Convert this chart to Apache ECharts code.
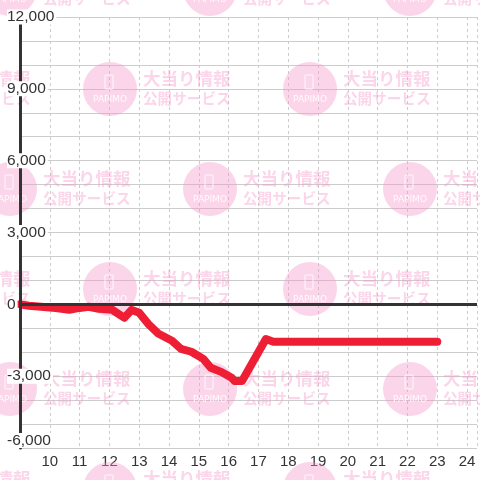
<!DOCTYPE html>
<html><head><meta charset="utf-8">
<script src="https://cdn.jsdelivr.net/npm/echarts@6/dist/echarts.min.js"></script>
<style>html,body{margin:0;padding:0;background:#fff}#c{width:480px;height:480px}</style>
</head><body><div id="c"></div>
<script>
// data
var xValues = [9, 9.3, 10.2, 10.65, 11.0, 11.3, 11.65, 12.1, 12.25, 12.5, 12.75, 13.0, 13.3, 13.65, 14.1, 14.4, 14.75, 15.15, 15.4, 15.75, 16.1, 16.2, 16.45, 17.25, 17.5, 18, 19, 20, 21, 22, 23];
var yValues = [0, -60, -150, -230, -150, -100, -190, -230, -355, -560, -230, -355, -815, -1230, -1520, -1860, -1980, -2280, -2650, -2820, -3070, -3200, -3200, -1450, -1560, -1560, -1560, -1560, -1560, -1560, -1560];
var xTickLabels = ['10','11','12','13','14','15','16','17','18','19','20','21','22','23','24'];
var yMin = -6000, yMax = 12000;
var wmLine1 = '大当り情報', wmLine2 = '公開サービス', wmLogo = 'PAPIMO';

var seriesData = xValues.map(function (x, i) { return [x, yValues[i]]; });

// watermark tiles
var wm = [];
var pink = 'rgba(245,150,200,0.4)';
function tile(cx, cy) {
  wm.push({type:'circle', z:1, silent:true, shape:{cx:cx, cy:cy, r:27}, style:{fill:pink}});
  wm.push({type:'rect', z:1, silent:true, shape:{x:cx-5, y:cy-14, width:8, height:14, r:1}, style:{fill:null, stroke:'rgba(255,255,255,0.85)', lineWidth:1}});
  wm.push({type:'text', z:1, silent:true, x:cx, y:cy+10.5, style:{text:wmLogo, fill:'rgba(255,255,255,0.9)', font:'9px "DejaVu Sans"', align:'center', verticalAlign:'middle'}});
  wm.push({type:'text', z:1, silent:true, x:cx+33, y:cy-10.5, style:{text:wmLine1, fill:pink, font:'bold 17.5px "Noto Sans CJK JP"', align:'left', verticalAlign:'middle'}});
  wm.push({type:'text', z:1, silent:true, x:cx+33, y:cy+9, style:{text:wmLine2, fill:pink, font:'bold 14.6px "Noto Sans CJK JP"', align:'left', verticalAlign:'middle'}});
}
for (var j = -1; j <= 3; j++) {
  for (var k = -1; k <= 3; k++) {
    tile(110 + 200*k, 89 + 200*j);
    tile(10 + 200*k, -11 + 200*j);
  }
}

var chart = echarts.init(document.getElementById('c'), null, {renderer:'canvas'});
chart.setOption({
  animation: false,
  backgroundColor: '#fff',
  grid: {left:20, right:0, top:17, bottom:32, containLabel:false},
  xAxis: {
    type:'value', min:9, max:24.3333, interval:1,
    axisLine:{show:false}, axisTick:{show:false},
    splitLine:{show:true, lineStyle:{color:'#ccc', type:[3,3], width:1}},
    axisLabel:{
      margin:6, color:'#333', fontSize:15, fontFamily:'"Liberation Sans", Arial',
      showMinLabel:false, showMaxLabel:true,
      formatter:function (v) { var s = String(Math.round(v)); return (Math.abs(v - Math.round(v)) < 1e-6 && xTickLabels.indexOf(s) >= 0) ? s : ''; }
    }
  },
  yAxis: [{
    type:'value', min:yMin, max:yMax, interval:1000, position:'left',
    axisLine:{show:false}, axisTick:{show:false}, axisLabel:{show:false},
    splitLine:{show:true, lineStyle:{color:'#ccc', width:1}}
  }, {
    type:'value', min:yMin, max:yMax, interval:3000, position:'left', z:5,
    axisLine:{show:true, onZero:false, lineStyle:{color:'#333', width:3}},
    axisTick:{show:false}, splitLine:{show:false},
    axisLabel:{
      align:'left', margin:13, color:'#333', fontSize:15.5, fontFamily:'"Liberation Sans", Arial',
      backgroundColor:'#fff', padding:[0,2,0,0], lineHeight:15,
      verticalAlignMinLabel:'bottom',
      formatter:function (v) { return v.toLocaleString('en-US'); }
    }
  }],
  graphic: {elements: wm},
  series: [{
    type:'line', data:[], xAxisIndex:0, yAxisIndex:0, z:2, silent:true,
    markLine:{
      silent:true, symbol:['none','none'], label:{show:false},
      lineStyle:{color:'#333', width:3, type:'solid'},
      data:[{yAxis:0}]
    }
  }, {
    type:'line', data:seriesData, xAxisIndex:0, yAxisIndex:0, z:3,
    showSymbol:false, clip:false,
    lineStyle:{color:'#ee1f35', width:8, join:'round', cap:'round'}
  }]
});
</script></body></html>
